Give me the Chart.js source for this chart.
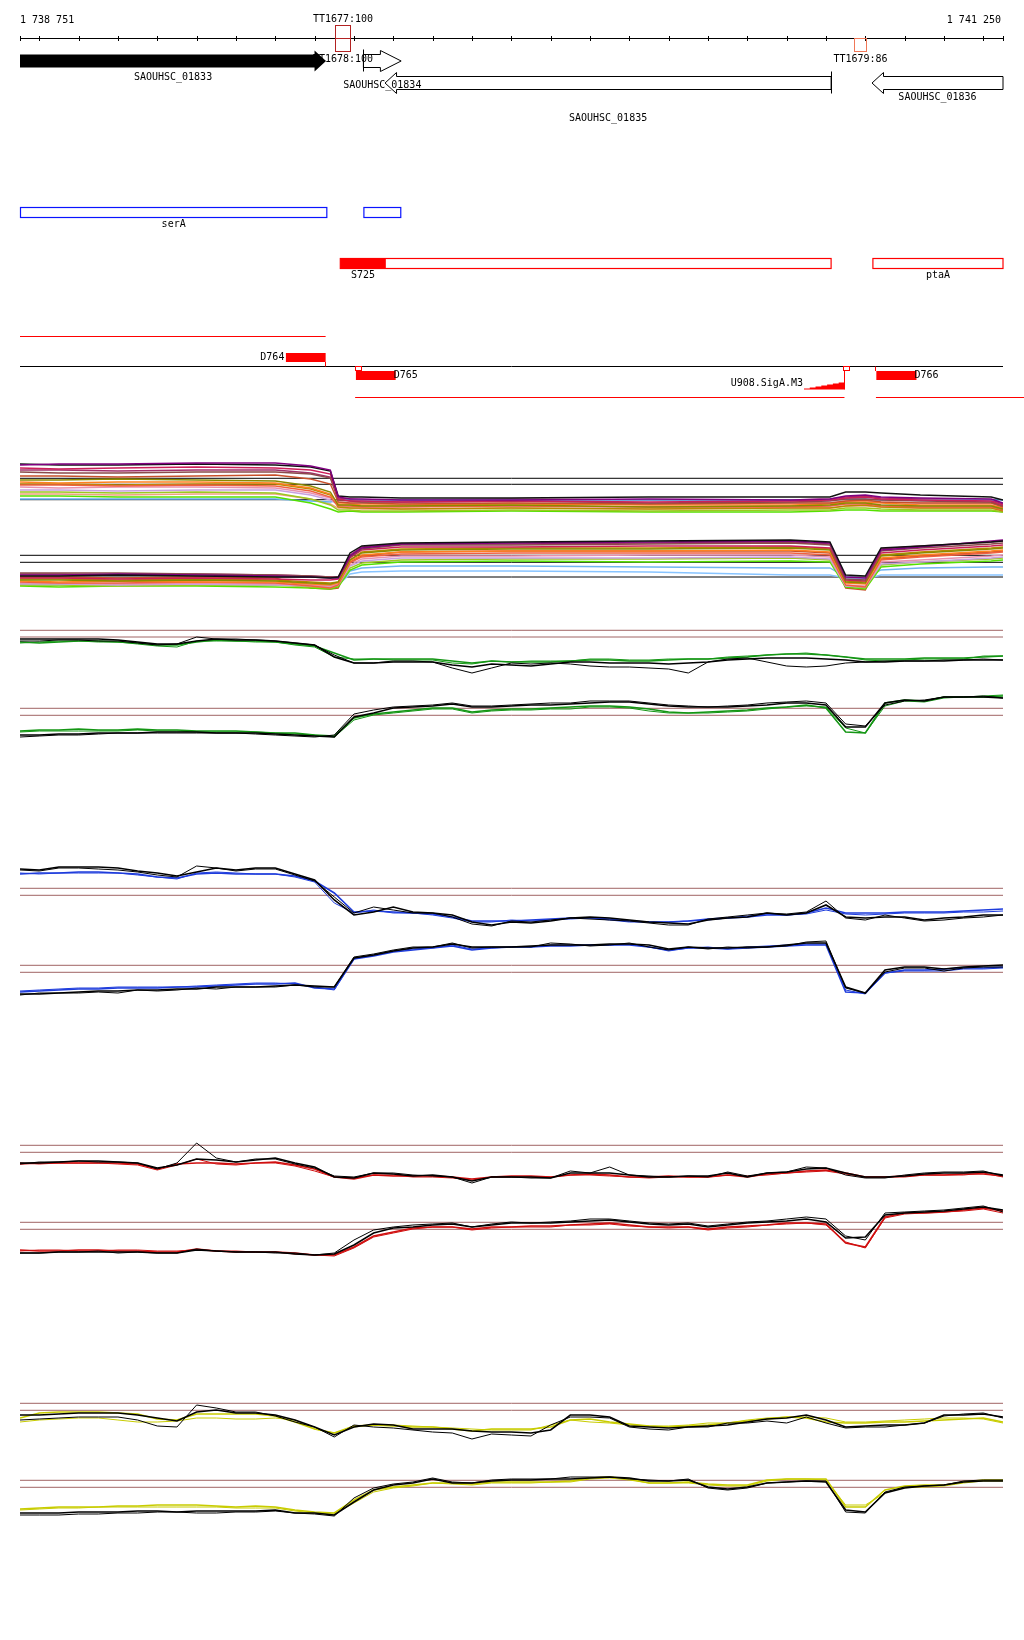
<!DOCTYPE html>
<html>
<head>
<meta charset="utf-8">
<script src="https://cdn.jsdelivr.net/npm/chart.js@4.4.0/dist/chart.umd.min.js"></script>
<style>
  body { margin: 0; background: #fff; }
  #page { position: relative; width: 1024px; height: 1640px; background: #fff; overflow: hidden; }
  #page canvas { position: absolute; left: 0; }
</style>
</head>
<body>
<div id="page"></div>
<script>
// ---- view ----
const viewStart = 1738751;
const viewEnd = 1741250;
const rulerStep = 100;

// ---- annotation data ----
const geneNames = ['SAOUHSC_01833', 'SAOUHSC_01834', 'SAOUHSC_01835', 'SAOUHSC_01836'];
const geneStarts = [1738600, 1739624, 1739679, 1740917];
const geneEnds = [1739529, 1739720, 1740813, 1741400];
const geneStrands = ['+', '+', '-', '-'];

const termNames = ['TT1677:100', 'TT1678:100', 'TT1679:86'];
const termStarts = [1739553, 1739553, 1740872];
const termEnds = [1739591, 1739591, 1740901];
const termStrands = ['+', '-', '-'];
const termScores = [100, 100, 86];

const operonNames = ['serA', ''];
const operonStarts = [1738751, 1739624];
const operonEnds = [1739531, 1739719];

const utrNames = ['S725', 'ptaA'];
const utrStarts = [1739564, 1740918];
const utrEnds = [1740813, 1741250];
const utrCoreEnds = [1739681, null];

const transcriptStarts = [1738751, 1739603, 1740927];
const transcriptEnds = [1739528, 1740847, 1741400];
const transcriptStrands = ['+', '-', '-'];

const sigNames = ['D764', 'D765', 'D766'];
const sigStarts = [1739427, 1739605, 1740928];
const sigEnds = [1739528, 1739706, 1741030];
const sigStrands = ['+', '-', '-'];
const sigLinks = [1739528, null, 1740928];

const motifName = 'U908.SigA.M3';
const motifStart = 1740744;
const motifEnd = 1740847;
const tssMarks = [1739605, 1740847];

// ---- expression: track 1 (many samples) ----
const t1Pos = [1738751, 1738850, 1739000, 1739200, 1739400, 1739490, 1739540, 1739560, 1739590, 1739620,
  1739720, 1740000, 1740350, 1740710, 1740810, 1740850, 1740900, 1740940, 1741040, 1741220, 1741250];

const t1Top = [
  [12.5,12.6,12.6,12.7,12.7,12.4,12.0,9.3,9.1,9.1,9.0,9.0,9.1,9.0,9.1,9.4,9.5,9.3,9.2,9.1,8.7],
  [12.6,12.5,12.5,12.6,12.5,12.3,11.9,9.4,9.3,9.3,9.2,9.2,9.3,9.3,9.3,9.8,9.8,9.7,9.5,9.3,9.0],
  [12.2,12.1,12.2,12.3,12.2,12.0,11.6,9.1,8.9,8.9,8.8,8.9,8.8,8.9,9.0,9.2,9.3,9.1,9.0,8.9,8.5],
  [11.8,11.7,11.7,11.8,11.8,11.6,11.2,9.0,8.9,8.8,8.8,8.9,8.7,8.8,8.9,9.1,9.1,9.0,8.9,8.8,8.4],
  [11.4,11.4,11.3,11.4,11.5,11.1,10.6,8.8,8.7,8.7,8.6,8.7,8.6,8.7,8.7,8.9,9.0,8.8,8.7,8.7,8.3],
  [11.0,11.0,11.1,11.0,10.9,10.4,9.8,8.5,8.5,8.4,8.4,8.5,8.3,8.4,8.5,8.7,8.7,8.5,8.4,8.4,8.1],
  [10.8,10.7,10.8,10.8,10.7,10.2,9.6,8.6,8.6,8.5,8.5,8.6,8.5,8.5,8.6,8.8,8.8,8.7,8.5,8.5,8.2],
  [10.5,10.5,10.4,10.5,10.4,9.9,9.3,8.4,8.4,8.3,8.3,8.4,8.3,8.3,8.4,8.6,8.6,8.4,8.3,8.3,8.0],
  [10.3,10.2,10.3,10.3,10.2,9.7,9.2,8.8,8.7,8.7,8.7,8.7,8.6,8.7,8.7,8.9,8.9,8.8,8.7,8.7,8.4],
  [10.6,10.6,10.5,10.6,10.6,10.1,9.5,8.3,8.2,8.2,8.1,8.2,8.1,8.2,8.2,8.4,8.5,8.3,8.2,8.2,7.9],
  [10.0,10.0,9.9,10.0,10.0,9.5,9.0,8.5,8.4,8.4,8.4,8.4,8.3,8.4,8.4,8.6,8.7,8.5,8.4,8.4,8.2],
  [9.8,9.8,9.7,9.8,9.7,9.1,8.5,8.0,8.0,7.9,7.9,8.0,7.9,8.0,8.0,8.2,8.2,8.1,8.0,8.0,7.8],
  [9.4,9.4,9.3,9.3,9.3,8.7,8.1,7.8,7.9,7.8,7.8,7.9,7.8,7.8,7.9,8.0,8.0,7.9,7.9,7.9,7.8],
  [9.1,9.1,9.1,9.1,9.1,8.9,8.8,9.0,9.0,9.0,9.0,9.0,9.0,9.0,9.0,9.1,9.1,9.0,9.0,9.0,9.0],
  [9.6,9.6,9.5,9.6,9.6,9.1,8.6,8.2,8.2,8.1,8.1,8.2,8.1,8.2,8.2,8.4,8.4,8.3,8.2,8.2,8.0],
  [12.0,12.0,11.9,12.0,12.0,11.7,11.3,9.2,9.1,9.0,9.0,9.1,9.0,9.0,9.1,9.3,9.4,9.2,9.1,9.0,8.6]
];
const t1Bot = [
  [9.4,9.4,9.5,9.4,9.3,9.3,9.2,9.3,11.7,12.4,12.7,12.8,12.9,13.0,12.8,9.5,9.4,12.2,12.4,12.8,12.9],
  [9.5,9.5,9.6,9.5,9.4,9.3,9.2,9.2,11.4,12.2,12.6,12.7,12.8,12.9,12.7,9.3,9.2,12.0,12.3,12.9,13.0],
  [9.7,9.7,9.7,9.6,9.5,9.4,9.3,9.2,11.3,12.1,12.5,12.5,12.6,12.7,12.5,9.1,9.0,11.9,12.2,12.6,12.7],
  [9.2,9.2,9.1,9.2,9.1,9.0,9.0,9.1,11.2,12.0,12.3,12.3,12.4,12.4,12.2,9.0,8.9,11.7,12.0,12.4,12.5],
  [9.0,9.0,8.9,9.0,8.9,8.7,8.6,8.8,11.0,11.7,12.0,12.1,12.1,12.2,12.0,8.8,8.7,11.4,11.7,12.1,12.2],
  [8.9,8.8,8.9,8.8,8.8,8.6,8.5,8.7,10.9,11.5,11.8,11.9,11.9,12.0,11.8,8.7,8.6,11.2,11.5,11.9,12.0],
  [8.8,8.7,8.7,8.8,8.7,8.4,8.2,8.5,10.7,11.3,11.6,11.7,11.7,11.7,11.5,8.5,8.3,11.0,11.3,11.7,11.8],
  [9.1,9.1,9.0,9.1,9.0,8.8,8.7,8.8,11.0,11.8,12.1,12.2,12.2,12.3,12.1,8.9,8.8,11.5,11.8,12.2,12.3],
  [8.7,8.7,8.6,8.7,8.6,8.5,8.4,8.6,10.5,11.1,11.4,11.4,11.5,11.5,11.3,8.5,8.4,10.8,11.0,11.4,11.5],
  [8.6,8.6,8.5,8.6,8.5,8.4,8.3,8.5,10.4,10.9,11.2,11.2,11.2,11.3,11.1,8.4,8.3,10.6,10.8,11.2,11.3],
  [8.5,8.5,8.4,8.5,8.5,8.3,8.2,8.4,10.2,10.7,11.0,11.1,11.1,11.2,11.0,8.4,8.2,10.5,10.8,11.1,11.2],
  [8.4,8.3,8.4,8.4,8.3,8.2,8.1,8.3,10.0,10.5,10.8,10.9,10.8,10.9,10.8,8.3,8.1,10.3,10.6,10.9,11.0],
  [8.6,8.6,8.6,8.6,8.6,8.5,8.5,8.6,9.9,10.2,10.4,10.4,10.3,10.2,10.2,9.3,9.2,10.0,10.2,10.3,10.3],
  [8.5,8.5,8.5,8.5,8.5,8.5,8.4,8.5,9.6,9.8,9.9,9.9,9.8,9.5,9.5,9.2,9.1,9.5,9.5,9.5,9.5],
  [9.3,9.3,9.2,9.3,9.2,8.2,8.1,8.2,10.8,11.4,11.8,11.9,11.9,11.9,11.7,8.2,8.0,11.1,11.4,11.8,11.9],
  [9.6,9.6,9.5,9.6,9.5,9.4,9.3,9.3,11.5,12.3,12.6,12.6,12.7,12.8,12.6,9.2,9.1,12.1,12.4,12.8,12.9]
];
const t1TopThr = [11.17, 10.57, 9.03];
const t1BotThr = [11.47, 10.77, 9.3];

// ---- expression: tracks 2-5 (two black + two coloured profiles each) ----
const pos = [1738751,1738800,1738850,1738900,1738950,1739000,1739050,1739100,1739150,1739200,
  1739250,1739300,1739350,1739400,1739450,1739500,1739550,1739600,1739650,1739700,
  1739750,1739800,1739850,1739900,1739950,1740000,1740050,1740100,1740150,1740200,
  1740250,1740300,1740350,1740400,1740450,1740500,1740550,1740600,1740650,1740700,
  1740750,1740800,1740850,1740900,1740950,1741000,1741050,1741100,1741150,1741200,1741250];

const greenTopK1 = [12.1,12.1,12.1,12.1,12.1,12.0,11.8,11.6,11.6,11.9,12.1,12.0,12.0,11.9,11.7,11.5,10.3,9.7,9.7,9.8,9.8,9.8,9.5,9.3,9.6,9.5,9.4,9.6,9.8,9.8,9.7,9.7,9.7,9.6,9.7,9.8,10.0,10.1,10.2,10.2,10.2,10.1,10.0,9.8,9.8,9.9,9.9,9.9,10.0,10.0,10.0];
const greenTopK2 = [11.9,11.9,12.0,12.0,11.9,11.9,11.7,11.5,11.6,12.3,12.1,12.1,12.0,11.9,11.7,11.5,10.5,9.7,9.7,9.9,9.9,9.8,9.2,8.7,9.2,9.7,9.6,9.7,9.6,9.4,9.3,9.3,9.2,9.1,8.7,9.8,10.1,10.2,9.8,9.4,9.3,9.4,9.7,9.8,9.9,9.9,9.9,10.0,10.0,10.1,10.0];
const greenTopC1 = [11.8,11.7,11.8,11.9,11.9,11.8,11.7,11.5,11.5,11.8,12.0,11.9,11.9,11.8,11.6,11.4,10.7,10.0,10.1,10.1,10.1,10.1,9.9,9.7,9.9,9.8,9.8,9.8,9.9,10.0,10.0,9.9,9.9,10.0,10.1,10.1,10.2,10.3,10.5,10.6,10.6,10.5,10.3,10.1,10.1,10.1,10.2,10.2,10.2,10.3,10.4];
const greenTopC2 = [11.7,11.8,11.9,11.9,11.8,11.8,11.6,11.4,11.3,11.9,11.9,11.9,11.8,11.8,11.5,11.3,10.3,10.1,10.1,10.0,10.0,10.0,9.7,9.6,9.9,9.8,9.9,9.9,9.9,10.1,10.1,10.0,10.0,10.1,10.1,10.1,10.3,10.4,10.5,10.6,10.7,10.5,10.3,10.0,9.9,10.0,10.1,10.1,10.1,10.4,10.4];
const greenBotK1 = [9.5,9.5,9.6,9.6,9.7,9.7,9.7,9.8,9.8,9.8,9.7,9.7,9.7,9.6,9.5,9.4,9.3,11.3,11.7,12.2,12.3,12.4,12.6,12.3,12.3,12.4,12.5,12.5,12.6,12.7,12.8,12.8,12.6,12.4,12.3,12.3,12.3,12.4,12.5,12.7,12.7,12.5,10.3,10.3,12.7,13.0,12.9,13.3,13.3,13.3,13.2];
const greenBotK2 = [9.3,9.4,9.5,9.5,9.6,9.7,9.7,9.7,9.7,9.7,9.7,9.7,9.6,9.5,9.4,9.3,9.5,11.6,12.0,12.3,12.4,12.5,12.7,12.4,12.4,12.5,12.6,12.7,12.7,12.9,12.9,12.9,12.7,12.5,12.4,12.3,12.4,12.5,12.7,12.8,12.9,12.7,10.6,10.4,12.5,12.9,13.0,13.3,13.3,13.4,13.2];
const greenBotC1 = [9.9,10.0,10.0,10.1,10.0,10.0,10.1,10.0,10.0,9.9,9.9,9.9,9.8,9.7,9.7,9.5,9.4,11.2,11.6,11.8,12.0,12.2,12.2,11.8,12.0,12.1,12.1,12.2,12.3,12.4,12.4,12.3,12.1,11.8,11.7,11.8,11.9,12.0,12.2,12.3,12.5,12.2,9.8,9.7,12.7,13.0,12.9,13.3,13.3,13.3,13.4];
const greenBotC2 = [9.8,9.9,9.9,9.9,9.9,9.9,10.0,9.9,9.9,9.8,9.8,9.8,9.8,9.7,9.6,9.5,9.3,11.0,11.5,11.7,11.9,12.1,12.1,11.7,11.9,12.0,12.0,12.1,12.1,12.3,12.3,12.2,11.9,11.7,11.7,11.7,11.8,11.9,12.1,12.3,12.4,12.3,10.2,9.7,12.4,12.9,12.8,13.2,13.3,13.4,13.5];
const greenTopThr = [12.97, 12.3];
const greenBotThr = [12.17, 11.47];

const blueTopK1 = [12.1,12.0,12.3,12.3,12.3,12.2,11.9,11.7,11.4,11.8,12.2,12.0,12.2,12.2,11.6,11.0,9.0,7.5,7.8,8.3,7.8,7.7,7.5,6.8,6.5,6.8,6.7,6.9,7.2,7.3,7.2,7.0,6.8,6.7,6.6,7.0,7.2,7.3,7.7,7.5,7.7,8.5,7.3,7.2,7.3,7.3,7.0,7.2,7.3,7.5,7.5];
const blueTopK2 = [12.0,11.9,12.2,12.2,12.1,12.0,11.8,11.5,11.3,12.4,12.2,11.9,12.1,12.1,11.5,10.9,9.3,7.7,8.3,8.0,7.7,7.7,7.3,6.6,6.4,6.9,6.8,7.0,7.2,7.1,7.0,6.9,6.7,6.5,6.5,7.1,7.3,7.5,7.7,7.6,7.8,8.9,7.2,7.0,7.5,7.2,6.9,7.0,7.2,7.3,7.5];
const blueTopC1 = [11.6,11.7,11.7,11.8,11.8,11.7,11.6,11.3,11.2,11.6,11.7,11.6,11.6,11.6,11.4,10.9,9.7,7.8,7.9,7.8,7.7,7.6,7.3,6.9,6.9,6.9,7.0,7.1,7.2,7.2,7.1,6.9,6.8,6.8,6.9,7.1,7.2,7.3,7.5,7.5,7.7,8.2,7.7,7.7,7.7,7.8,7.8,7.8,7.9,8.0,8.1];
const blueTopC2 = [11.7,11.6,11.7,11.7,11.7,11.7,11.5,11.3,11.1,11.7,11.8,11.7,11.6,11.6,11.3,10.8,8.7,7.7,8.0,7.7,7.7,7.5,7.2,6.8,6.8,7.0,6.9,7.0,7.1,7.2,7.0,6.8,6.8,6.8,6.9,7.0,7.2,7.4,7.6,7.5,7.6,8.0,7.6,7.5,7.6,7.7,7.7,7.7,7.8,7.8,7.9];
const blueBotK1 = [8.1,8.1,8.2,8.3,8.4,8.4,8.5,8.5,8.6,8.6,8.8,8.8,8.8,8.9,9.0,8.9,8.8,11.7,12.0,12.4,12.7,12.8,13.1,12.8,12.8,12.8,12.9,13.0,13.0,13.0,13.1,13.1,13.0,12.6,12.8,12.7,12.7,12.8,12.8,13.0,13.2,13.2,8.8,8.2,10.5,10.8,10.8,10.6,10.8,10.9,11.0];
const blueBotK2 = [8.0,8.2,8.2,8.2,8.3,8.2,8.5,8.4,8.5,8.7,8.6,8.8,8.8,8.8,9.0,8.8,8.8,11.8,12.1,12.5,12.8,12.8,13.2,12.7,12.8,12.8,12.8,13.2,13.1,12.9,13.0,13.2,12.8,12.5,12.8,12.6,12.8,12.7,12.8,12.9,13.3,13.4,8.7,8.2,10.3,10.7,10.7,10.4,10.7,10.8,10.8];
const blueBotC1 = [8.3,8.4,8.5,8.6,8.6,8.7,8.7,8.7,8.8,8.8,8.9,9.0,9.1,9.1,9.2,8.7,8.6,11.6,11.9,12.3,12.5,12.7,12.9,12.5,12.7,12.8,12.8,12.9,12.9,13.0,13.0,13.0,12.8,12.5,12.7,12.7,12.6,12.7,12.8,12.9,13.0,13.0,8.3,8.2,10.2,10.5,10.5,10.6,10.7,10.7,10.8];
const blueBotC2 = [8.4,8.5,8.6,8.7,8.7,8.8,8.8,8.8,8.8,8.9,9.0,9.1,9.2,9.2,9.1,8.8,8.5,11.6,12.0,12.4,12.6,12.7,13.0,12.6,12.7,12.8,12.8,13.0,13.0,13.0,13.0,13.1,12.8,12.4,12.7,12.8,12.6,12.8,12.9,13.0,13.1,13.1,8.5,8.1,10.2,10.4,10.4,10.4,10.6,10.6,10.7];
const blueTopThr = [10.17, 9.47];
const blueBotThr = [10.97, 10.27];

const redTopK1 = [10.7,10.7,10.8,10.9,10.9,10.8,10.7,10.2,10.5,11.1,11.0,10.8,11.0,11.2,10.7,10.3,9.3,9.2,9.7,9.6,9.4,9.5,9.3,8.9,9.3,9.3,9.3,9.2,9.7,9.7,9.7,9.5,9.3,9.3,9.4,9.4,9.7,9.3,9.7,9.8,10.1,10.2,9.7,9.3,9.3,9.4,9.6,9.7,9.7,9.8,9.5];
const redTopK2 = [10.6,10.8,10.8,10.9,10.8,10.8,10.7,10.1,10.7,12.7,11.2,10.8,11.1,11.1,10.6,10.2,9.4,9.3,9.7,9.7,9.5,9.4,9.3,8.7,9.3,9.3,9.2,9.2,9.9,9.7,10.3,9.5,9.4,9.3,9.4,9.3,9.8,9.4,9.7,9.8,10.3,10.2,9.5,9.2,9.2,9.5,9.7,9.8,9.8,9.9,9.4];
const redTopC1 = [10.6,10.7,10.7,10.7,10.7,10.7,10.6,10.1,10.6,10.7,10.7,10.6,10.7,10.8,10.5,10.1,9.3,9.1,9.5,9.4,9.4,9.4,9.3,9.1,9.3,9.4,9.4,9.3,9.5,9.6,9.5,9.3,9.3,9.4,9.3,9.3,9.5,9.3,9.6,9.7,9.9,10.0,9.7,9.3,9.3,9.4,9.5,9.5,9.6,9.6,9.4];
const redTopC2 = [10.7,10.6,10.7,10.7,10.7,10.6,10.5,10.0,10.5,11.1,10.6,10.5,10.7,10.7,10.4,9.9,9.3,9.2,9.5,9.5,9.3,9.3,9.2,9.0,9.3,9.3,9.3,9.3,9.5,9.5,9.4,9.3,9.2,9.3,9.3,9.3,9.5,9.4,9.5,9.7,9.8,9.9,9.6,9.3,9.3,9.3,9.5,9.5,9.5,9.7,9.3];
const redBotK1 = [8.7,8.7,8.8,8.8,8.8,8.8,8.8,8.7,8.7,9.0,8.9,8.8,8.8,8.8,8.6,8.5,8.6,9.5,10.7,11.2,11.3,11.5,11.6,11.3,11.5,11.7,11.7,11.7,11.8,11.9,12.0,11.8,11.6,11.5,11.6,11.3,11.5,11.7,11.8,11.9,12.1,11.8,10.2,10.3,12.5,12.7,12.8,12.9,13.1,13.3,13.0];
const redBotK2 = [8.7,8.7,8.8,8.8,8.9,8.7,8.8,8.7,8.7,9.1,8.9,8.8,8.8,8.7,8.7,8.5,8.7,10.0,11.0,11.3,11.5,11.6,11.7,11.3,11.6,11.8,11.7,11.8,11.9,12.1,12.1,11.9,11.7,11.6,11.7,11.4,11.6,11.8,11.9,12.1,12.3,12.1,10.4,10.0,12.7,12.8,12.9,13.0,13.2,13.4,12.8];
const redBotC1 = [9.0,8.9,8.9,9.0,9.0,8.9,8.9,8.8,8.8,9.1,8.9,8.8,8.8,8.8,8.7,8.5,8.5,9.3,10.4,10.8,11.2,11.3,11.3,11.1,11.3,11.3,11.4,11.4,11.5,11.6,11.7,11.5,11.3,11.3,11.3,11.1,11.3,11.4,11.5,11.7,11.7,11.6,9.7,9.3,12.3,12.7,12.7,12.8,13.0,13.2,12.9];
const redBotC2 = [8.9,9.0,9.0,8.9,8.9,9.0,9.0,8.9,8.9,9.0,8.9,8.9,8.8,8.8,8.6,8.5,8.4,9.2,10.3,10.7,11.1,11.3,11.3,11.0,11.2,11.3,11.3,11.3,11.5,11.5,11.6,11.4,11.3,11.2,11.3,11.0,11.2,11.3,11.5,11.6,11.7,11.5,9.8,9.2,12.2,12.6,12.7,12.8,12.9,13.1,12.7];
const redTopThr = [12.47, 11.77];
const redBotThr = [11.77, 11.07];

const yellowTopK1 = [11.5,11.5,11.6,11.7,11.7,11.7,11.5,11.2,10.9,11.8,12.0,11.7,11.7,11.5,11.0,10.3,9.5,10.3,10.6,10.5,10.1,10.1,10.1,9.9,9.8,9.8,9.7,10.0,11.5,11.5,11.3,10.4,10.3,10.2,10.3,10.4,10.5,10.8,11.1,11.2,11.5,11.0,10.3,10.4,10.5,10.5,10.7,11.5,11.5,11.6,11.3];
const yellowTopK2 = [11.0,11.1,11.2,11.3,11.3,11.3,11.0,10.4,10.3,12.5,12.2,11.8,11.8,11.4,10.8,10.3,9.3,10.5,10.3,10.2,10.0,9.8,9.7,9.1,9.6,9.5,9.4,10.5,11.3,11.3,11.2,10.3,10.1,10.0,10.3,10.3,10.7,10.7,10.9,10.7,11.3,10.7,10.2,10.3,10.3,10.5,10.7,11.4,11.6,11.7,11.2];
const yellowTopC1 = [11.2,11.7,11.8,11.8,11.8,11.7,11.6,11.1,11.0,11.6,11.6,11.6,11.6,11.4,10.8,10.1,9.7,10.4,10.5,10.4,10.3,10.3,10.1,9.9,10.1,10.1,10.1,10.3,11.0,11.1,10.8,10.6,10.4,10.3,10.4,10.5,10.7,10.9,11.1,11.3,11.2,10.8,10.7,10.7,10.8,10.8,10.9,11.0,11.1,11.2,10.8];
const yellowTopC2 = [10.8,11.0,11.1,11.2,11.2,11.0,10.8,10.8,10.9,11.2,11.2,11.1,11.1,11.2,11.0,10.1,9.7,10.3,10.5,10.5,10.4,10.3,10.2,10.1,10.0,10.0,10.0,10.5,11.0,10.8,10.7,10.5,10.4,10.4,10.5,10.7,10.7,11.0,11.2,11.3,11.3,11.2,10.8,10.8,10.9,11.0,11.1,11.2,11.2,11.1,10.7];
const yellowBotK1 = [8.7,8.7,8.7,8.8,8.8,8.8,8.9,8.9,8.8,8.9,8.9,8.9,8.9,9.0,8.7,8.7,8.5,9.8,11.0,11.5,11.7,12.1,11.7,11.7,11.9,12.0,12.0,12.1,12.1,12.2,12.3,12.2,11.9,11.9,12.0,11.3,11.1,11.3,11.7,11.8,11.9,11.8,9.0,8.8,10.7,11.2,11.4,11.5,11.8,11.9,11.9];
const yellowBotK2 = [8.5,8.5,8.5,8.6,8.6,8.7,8.7,8.8,8.8,8.7,8.7,8.8,8.8,8.9,8.7,8.6,8.4,10.2,11.2,11.6,11.8,12.2,11.8,11.7,12.0,12.1,12.1,12.1,12.3,12.3,12.3,12.1,12.0,11.9,12.1,11.2,11.0,11.2,11.7,11.8,11.9,11.9,8.8,8.7,10.8,11.3,11.4,11.5,11.9,12.0,12.0];
const yellowBotC1 = [9.1,9.2,9.3,9.3,9.3,9.4,9.4,9.5,9.5,9.5,9.4,9.3,9.4,9.3,9.0,8.8,8.7,10.0,11.0,11.3,11.5,11.7,11.7,11.6,11.8,11.8,11.8,11.8,11.9,12.2,12.3,12.1,11.7,11.7,11.8,11.6,11.5,11.5,12.0,12.1,12.1,12.1,9.3,9.3,11.0,11.4,11.5,11.5,11.8,12.0,12.0];
const yellowBotC2 = [9.0,9.1,9.2,9.2,9.3,9.3,9.3,9.3,9.3,9.3,9.3,9.2,9.2,9.2,8.9,8.7,8.6,9.7,10.8,11.2,11.4,11.7,11.6,11.5,11.7,11.7,11.7,11.8,11.8,12.1,12.2,12.0,11.7,11.7,11.7,11.5,11.4,11.4,11.9,12.1,12.1,12.0,9.5,9.5,10.7,11.3,11.3,11.4,11.7,11.9,11.9];
const yellowTopThr = [12.67, 11.97];
const yellowBotThr = [11.97, 11.27];

// ---- styles ----
const FONT = '10px "DejaVu Sans Mono", monospace';
const t1Colors = ['#800080', '#111111', '#cc1f5a', '#8b4a4a', '#c8502a', '#8a8a00', '#ff8020', '#f06040',
  '#e890b0', '#b88a00', '#c8a0e0', '#9cc820', '#55e000', '#60b0f0', '#f0a080', '#a0306a'];
const t1BotColors = ['#111111', '#800080', '#8b4a4a', '#cc1f5a', '#8a8a00', '#ff8020', '#f06040', '#b88a00',
  '#e890b0', '#c8a0e0', '#9cc820', '#55e000', '#70b4f0', '#88c4ff', '#c8502a', '#a0306a'];
const GREEN = '#149614', BLUE = '#1e3cdc', RED = '#d01010', YELLOW = '#c8cc00', BROWN = '#a06464';
const highlightGene = 'SAOUHSC_01833';
const geneLabelY = { SAOUHSC_01833: 77, SAOUHSC_01834: 85, SAOUHSC_01835: 118, SAOUHSC_01836: 97 };

const page = document.getElementById('page');

function addCanvas(top, h) {
  const c = document.createElement('canvas');
  c.width = 1024;
  c.height = h;
  c.style.top = top + 'px';
  page.appendChild(c);
  return c;
}

function baseOptions(yMin, yMax) {
  return {
    responsive: false,
    animation: false,
    devicePixelRatio: 1,
    events: [],
    layout: { padding: { left: 20, right: 21, top: 0, bottom: 0 } },
    plugins: { legend: { display: false }, tooltip: { enabled: false } },
    elements: { point: { radius: 0 }, line: { tension: 0 } },
    scales: {
      x: { type: 'linear', display: false, min: viewStart, max: viewEnd },
      y: { type: 'linear', display: false, min: yMin, max: yMax }
    }
  };
}

// ---- annotation header ----
const L = {
  rulerY: 38.5, tickTop: 36, tickBot: 41, endLabelY: 20,
  termTop: 25.5, termBot: 51.5,
  plusY: 61, minusY: 83, bodyHalf: 6.5, headHalf: 10.5,
  opTop: 207.5, opBot: 217.5, opLabelY: 224,
  utrTop: 258.5, utrBot: 268.5, utrLabelY: 275.5,
  txPlusY: 336.5, txMinusY: 397.5, baseY: 366.5,
  sigPlusTop: 353, sigPlusBot: 362, sigMinusTop: 371, sigMinusBot: 380,
  motifBot: 389.5, motifH: 7
};

const annotation = {
  id: 'annotation',
  afterDraw(chart) {
    const ctx = chart.ctx, sx = chart.scales.x;
    const X = v => sx.getPixelForValue(Math.max(viewStart, Math.min(viewEnd, v)));
    const fmt = n => String(n).replace(/\B(?=(\d{3})+(?!\d))/g, ' ');
    ctx.save();
    ctx.font = FONT;
    ctx.textBaseline = 'middle';

    // ruler
    ctx.strokeStyle = '#000';
    ctx.lineWidth = 1;
    ctx.beginPath();
    ctx.moveTo(X(viewStart), L.rulerY);
    ctx.lineTo(X(viewEnd), L.rulerY);
    const ticks = [viewStart];
    for (let t = Math.ceil(viewStart / rulerStep) * rulerStep; t < viewEnd; t += rulerStep) ticks.push(t);
    ticks.push(viewEnd);
    ticks.forEach(t => {
      const x = Math.round(X(t)) + 0.5;
      ctx.moveTo(x, L.tickTop);
      ctx.lineTo(x, L.tickBot);
    });
    ctx.stroke();
    ctx.fillStyle = '#000';
    ctx.textAlign = 'left';
    ctx.fillText(fmt(viewStart), X(viewStart), L.endLabelY);
    ctx.textAlign = 'right';
    ctx.fillText(fmt(viewEnd), X(viewEnd) - 2, L.endLabelY);

    // terminators
    termNames.forEach((name, i) => {
      const a = Math.round(X(termStarts[i])) + 0.5, b = Math.round(X(termEnds[i])) + 0.5;
      const plus = termStrands[i] === '+';
      const y0 = plus ? L.termTop : L.rulerY, y1 = plus ? L.rulerY : L.termBot;
      ctx.strokeStyle = termScores[i] >= 95 ? '#b22222' : '#f07858';
      ctx.lineWidth = 1;
      ctx.strokeRect(a, y0, b - a, y1 - y0);
      ctx.fillStyle = '#000';
      ctx.textAlign = 'center';
      ctx.fillText(name, (a + b) / 2, plus ? y0 - 6.5 : y1 + 7.5);
    });

    // genes
    geneNames.forEach((name, i) => {
      const a = X(geneStarts[i]), b = X(geneEnds[i]);
      const plus = geneStrands[i] === '+';
      const cy = plus ? L.plusY : L.minusY;
      const bh = L.bodyHalf, hh = L.headHalf;
      const len = b - a;
      const head = len < 60 ? len * 0.55 : 11.5;
      ctx.beginPath();
      if (plus) {
        const hb = b - head;
        ctx.moveTo(a, cy - bh); ctx.lineTo(hb, cy - bh); ctx.lineTo(hb, cy - hh);
        ctx.lineTo(b, cy); ctx.lineTo(hb, cy + hh); ctx.lineTo(hb, cy + bh); ctx.lineTo(a, cy + bh);
      } else {
        const hb = a + head;
        ctx.moveTo(b, cy - bh); ctx.lineTo(hb, cy - bh); ctx.lineTo(hb, cy - hh);
        ctx.lineTo(a, cy); ctx.lineTo(hb, cy + hh); ctx.lineTo(hb, cy + bh); ctx.lineTo(b, cy + bh);
      }
      ctx.closePath();
      ctx.strokeStyle = '#000';
      ctx.fillStyle = '#000';
      ctx.lineWidth = 1;
      if (name === highlightGene) ctx.fill(); else ctx.stroke();
      const five = plus ? geneStarts[i] : geneEnds[i];
      if (five > viewStart && five < viewEnd) {
        const x = Math.round(X(five)) + 0.5;
        ctx.beginPath();
        ctx.moveTo(x, cy - hh - 1);
        ctx.lineTo(x, cy + hh);
        ctx.stroke();
      }
      ctx.textAlign = 'center';
      ctx.fillText(name, (a + b) / 2, geneLabelY[name]);
    });

    // operons
    operonNames.forEach((name, i) => {
      const a = X(operonStarts[i]) + 0.5, b = X(operonEnds[i]);
      ctx.strokeStyle = '#0a14ff';
      ctx.lineWidth = 1.2;
      ctx.strokeRect(a, L.opTop, b - a, L.opBot - L.opTop);
      if (name) {
        ctx.fillStyle = '#000';
        ctx.textAlign = 'center';
        ctx.fillText(name, (a + b) / 2, L.opLabelY);
      }
    });

    // UTR regions
    utrNames.forEach((name, i) => {
      const a = X(utrStarts[i]) + 0.5, b = X(utrEnds[i]);
      ctx.fillStyle = '#ff0000';
      let cx = (a + b) / 2;
      if (utrCoreEnds[i]) {
        const c = X(utrCoreEnds[i]);
        ctx.fillRect(a, L.utrTop, c - a, L.utrBot - L.utrTop);
        cx = (a + c) / 2;
      }
      ctx.strokeStyle = '#ff0000';
      ctx.lineWidth = 1.2;
      ctx.strokeRect(a, L.utrTop, b - a, L.utrBot - L.utrTop);
      ctx.fillStyle = '#000';
      ctx.textAlign = 'center';
      ctx.fillText(name, cx, L.utrLabelY);
    });

    // transcripts
    ctx.strokeStyle = '#ff0000';
    ctx.lineWidth = 1;
    transcriptStarts.forEach((s, i) => {
      const y = transcriptStrands[i] === '+' ? L.txPlusY : L.txMinusY;
      ctx.beginPath();
      ctx.moveTo(X(s), y);
      ctx.lineTo(transcriptEnds[i] > viewEnd ? 1024 : X(transcriptEnds[i]), y);
      ctx.stroke();
    });

    // base line
    ctx.strokeStyle = '#000';
    ctx.beginPath();
    ctx.moveTo(X(viewStart), L.baseY);
    ctx.lineTo(X(viewEnd), L.baseY);
    ctx.stroke();

    // signals
    sigNames.forEach((name, i) => {
      const a = X(sigStarts[i]), b = X(sigEnds[i]);
      const plus = sigStrands[i] === '+';
      const top = plus ? L.sigPlusTop : L.sigMinusTop, bot = plus ? L.sigPlusBot : L.sigMinusBot;
      ctx.fillStyle = '#ff0000';
      ctx.fillRect(a, top, b - a, bot - top);
      if (sigLinks[i]) {
        const x = Math.round(X(sigLinks[i])) - 0.5;
        ctx.strokeStyle = '#ff0000';
        ctx.beginPath();
        ctx.moveTo(x, plus ? bot : L.baseY);
        ctx.lineTo(x, plus ? L.baseY : top);
        ctx.stroke();
      }
      ctx.fillStyle = '#000';
      if (plus) {
        ctx.textAlign = 'right';
        ctx.fillText(name, a - 1.5, (top + bot) / 2);
      } else {
        ctx.textAlign = 'left';
        ctx.fillText(name, b - 2, (top + bot) / 2);
      }
    });

    // motif
    const ma = X(motifStart), mb = X(motifEnd);
    const steps = 7;
    ctx.fillStyle = '#ff0000';
    ctx.beginPath();
    ctx.moveTo(ma, L.motifBot);
    for (let k = 0; k < steps; k++) {
      const xk = ma + (mb - ma) * k / steps, xk1 = ma + (mb - ma) * (k + 1) / steps;
      const hk = L.motifH * (k + 1) / steps;
      ctx.lineTo(xk, L.motifBot - hk);
      ctx.lineTo(xk1, L.motifBot - hk);
    }
    ctx.lineTo(mb, L.motifBot);
    ctx.closePath();
    ctx.fill();
    ctx.strokeStyle = '#ff0000';
    ctx.beginPath();
    ctx.moveTo(Math.round(mb) + 0.5, L.baseY);
    ctx.lineTo(Math.round(mb) + 0.5, L.motifBot);
    ctx.stroke();
    ctx.fillStyle = '#000';
    ctx.textAlign = 'right';
    ctx.fillText(motifName, ma - 1, L.motifBot - 6);

    // TSS marks
    tssMarks.forEach(p => {
      const x = Math.round(X(p)) - 0.5;
      ctx.fillStyle = '#fff';
      ctx.fillRect(x, L.baseY, 6, 4);
      ctx.strokeStyle = '#ff0000';
      ctx.strokeRect(x, L.baseY, 6, 4);
    });

    ctx.restore();
  }
};

new Chart(addCanvas(0, 410), {
  type: 'line',
  data: { datasets: [] },
  options: baseOptions(0, 1),
  plugins: [annotation]
});

// ---- expression panels ----
function lineSet(xs, ys, color, width) {
  return {
    data: ys.map((v, i) => ({ x: xs[i], y: v })),
    borderColor: color, borderWidth: width, pointRadius: 0, fill: false
  };
}
function thrSet(v, color) {
  return {
    data: [{ x: viewStart, y: v }, { x: viewEnd, y: v }],
    borderColor: color, borderWidth: 1, pointRadius: 0, fill: false, order: 10
  };
}

const panels = [
  { top: 450, h: 70, xs: t1Pos, sets: t1Top, colors: t1Colors, widths: null, thr: t1TopThr, thrColor: '#000' },
  { top: 530, h: 70, xs: t1Pos, sets: t1Bot, colors: t1BotColors, widths: null, thr: t1BotThr, thrColor: '#000' },
  { top: 620, h: 60, xs: pos, sets: [greenTopK1, greenTopK2, greenTopC1, greenTopC2], colors: ['#000', '#000', GREEN, GREEN], widths: [1.6, 1, 1.6, 1], thr: greenTopThr, thrColor: BROWN },
  { top: 690, h: 60, xs: pos, sets: [greenBotK1, greenBotK2, greenBotC1, greenBotC2], colors: ['#000', '#000', GREEN, GREEN], widths: [1.6, 1, 1.6, 1], thr: greenBotThr, thrColor: BROWN },
  { top: 850, h: 80, xs: pos, sets: [blueTopK1, blueTopK2, blueTopC1, blueTopC2], colors: ['#000', '#000', BLUE, BLUE], widths: [1.6, 1, 1.6, 1], thr: blueTopThr, thrColor: BROWN },
  { top: 935, h: 70, xs: pos, sets: [blueBotK1, blueBotK2, blueBotC1, blueBotC2], colors: ['#000', '#000', BLUE, BLUE], widths: [1.6, 1, 1.6, 1], thr: blueBotThr, thrColor: BROWN },
  { top: 1130, h: 60, xs: pos, sets: [redTopK1, redTopK2, redTopC1, redTopC2], colors: ['#000', '#000', RED, RED], widths: [1.6, 1, 1.6, 1], thr: redTopThr, thrColor: BROWN },
  { top: 1200, h: 65, xs: pos, sets: [redBotK1, redBotK2, redBotC1, redBotC2], colors: ['#000', '#000', RED, RED], widths: [1.6, 1, 1.6, 1], thr: redBotThr, thrColor: BROWN },
  { top: 1390, h: 60, xs: pos, sets: [yellowTopK1, yellowTopK2, yellowTopC1, yellowTopC2], colors: ['#000', '#000', YELLOW, YELLOW], widths: [1.6, 1, 1.6, 1], thr: yellowTopThr, thrColor: BROWN },
  { top: 1460, h: 70, xs: pos, sets: [yellowBotK1, yellowBotK2, yellowBotC1, yellowBotC2], colors: ['#000', '#000', YELLOW, YELLOW], widths: [1.6, 1, 1.6, 1], thr: yellowBotThr, thrColor: BROWN }
];

panels.forEach(p => {
  const datasets = p.sets.map((s, i) => lineSet(p.xs, s, p.colors[i], p.widths ? p.widths[i] : 1.4));
  p.thr.forEach(v => datasets.push(thrSet(v, p.thrColor)));
  new Chart(addCanvas(p.top, p.h), {
    type: 'line',
    data: { datasets },
    options: baseOptions(14 - p.h / 10, 14)
  });
});
</script>
</body>
</html>
